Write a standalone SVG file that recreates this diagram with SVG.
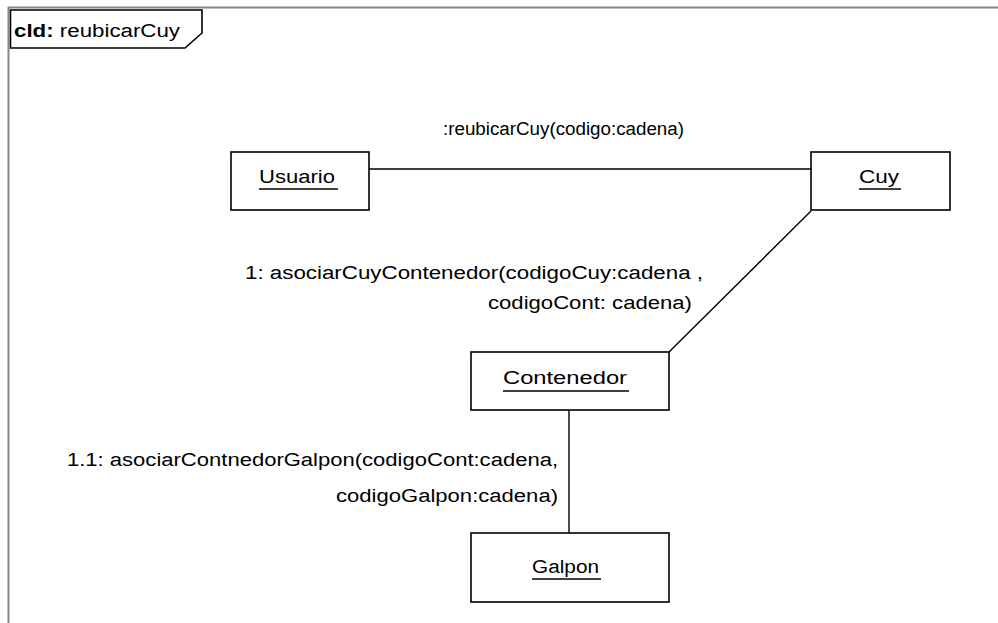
<svg xmlns="http://www.w3.org/2000/svg" width="998" height="623" viewBox="0 0 998 623">
<style>
.box{fill:#fff;stroke:#000;stroke-width:1.6}
.conn{stroke:#000;stroke-width:1.4;fill:none}
text{font-family:"Liberation Sans",Arial,sans-serif;font-size:18px;fill:#000}
.ul{stroke:#000;stroke-width:1.4}
</style>
<rect x="0" y="0" width="998" height="623" fill="#fff"/>
<g id="frame">
<path d="M8.5,623 V7.5 H998" fill="none" stroke="#888" stroke-width="2"/>
<path d="M10.5,10 H202 V33 L185,48 H10.5 Z" fill="#fff" stroke="#000" stroke-width="1.6"/>
<text x="14" y="37" textLength="166" lengthAdjust="spacingAndGlyphs"><tspan font-weight="bold">cld:</tspan> reubicarCuy</text>
</g>
<g id="connectors">
<line class="conn" x1="369" y1="169" x2="811" y2="169"/>
<line class="conn" x1="669" y1="352" x2="811" y2="211"/>
<line class="conn" x1="569" y1="410" x2="569" y2="533"/>
<text x="443" y="135" textLength="241" lengthAdjust="spacingAndGlyphs">:reubicarCuy(codigo:cadena)</text>
<text x="245" y="279" textLength="458" lengthAdjust="spacingAndGlyphs">1: asociarCuyContenedor(codigoCuy:cadena ,</text>
<text x="488" y="309" textLength="204" lengthAdjust="spacingAndGlyphs">codigoCont: cadena)</text>
<text x="67" y="466" textLength="491" lengthAdjust="spacingAndGlyphs">1.1: asociarContnedorGalpon(codigoCont:cadena,</text>
<text x="336" y="502" textLength="222" lengthAdjust="spacingAndGlyphs">codigoGalpon:cadena)</text>
</g>
<g id="usuario">
<rect class="box" x="231" y="152" width="138" height="58"/>
<text x="259" y="183" textLength="76" lengthAdjust="spacingAndGlyphs">Usuario</text>
<line class="ul" x1="259" y1="189" x2="338" y2="189"/>
</g>
<g id="cuy">
<rect class="box" x="811" y="152" width="139" height="58"/>
<text x="859" y="183" textLength="40" lengthAdjust="spacingAndGlyphs">Cuy</text>
<line class="ul" x1="859" y1="189" x2="901" y2="189"/>
</g>
<g id="contenedor">
<rect class="box" x="471" y="352" width="198" height="58"/>
<text x="503" y="384" textLength="124" lengthAdjust="spacingAndGlyphs">Contenedor</text>
<line class="ul" x1="503" y1="391" x2="629" y2="391"/>
</g>
<g id="galpon">
<rect class="box" x="471" y="533" width="198" height="69"/>
<text x="532" y="573" textLength="67" lengthAdjust="spacingAndGlyphs">Galpon</text>
<line class="ul" x1="532" y1="579" x2="601" y2="579"/>
</g>
</svg>
